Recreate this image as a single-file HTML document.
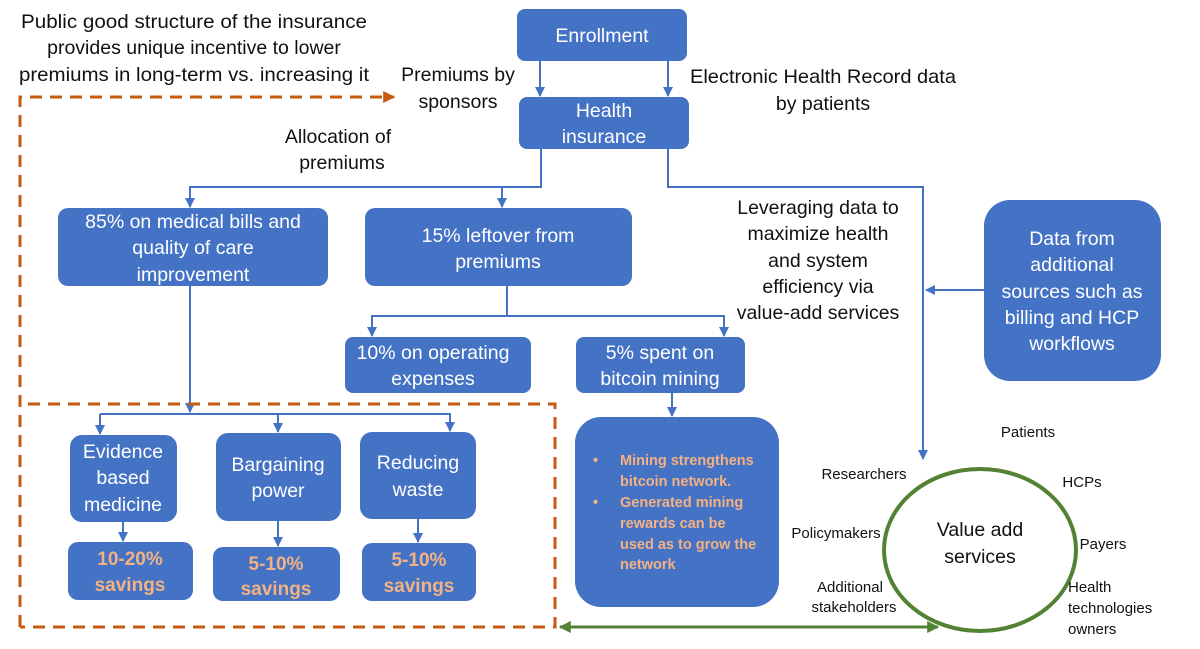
<!DOCTYPE html>
<html><head><meta charset="utf-8"><style>
body{margin:0;background:#fff}
svg{display:block}
text{font-family:"Liberation Sans",sans-serif}
.w{fill:#fff;font-size:19.5px}
.k{fill:#111;font-size:19.5px}
.s{fill:#111;font-size:15px}
.o{fill:#F4B183;font-size:19px;font-weight:bold}
</style></head><body>
<svg width="1200" height="649" viewBox="0 0 1200 649">
<defs>
<marker id="a" viewBox="0 0 10 10" refX="9" refY="5" markerWidth="5" markerHeight="5" orient="auto"><path d="M0,0L10,5L0,10z" fill="#4472C4"/></marker>
<marker id="o" viewBox="0 0 10 10" refX="9" refY="5" markerWidth="4" markerHeight="4" orient="auto"><path d="M0,0L10,5L0,10z" fill="#C55A11"/></marker>
<marker id="g" viewBox="0 0 10 10" refX="9" refY="5" markerWidth="4" markerHeight="4" orient="auto-start-reverse"><path d="M0,0L10,5L0,10z" fill="#548235"/></marker>
</defs>
<g fill="#4472C4">
<rect x="517" y="9" width="170" height="52" rx="8"/>
<rect x="519" y="97" width="170" height="52" rx="8"/>
<rect x="58" y="208" width="270" height="78" rx="10"/>
<rect x="365" y="208" width="267" height="78" rx="10"/>
<rect x="345" y="337" width="186" height="56" rx="8"/>
<rect x="576" y="337" width="169" height="56" rx="8"/>
<rect x="575" y="417" width="204" height="190" rx="26"/>
<rect x="984" y="200" width="177" height="181" rx="26"/>
<rect x="70" y="435" width="107" height="87" rx="12"/>
<rect x="216" y="433" width="125" height="88" rx="12"/>
<rect x="360" y="432" width="116" height="87" rx="12"/>
<rect x="68" y="542" width="125" height="58" rx="10"/>
<rect x="213" y="547" width="127" height="54" rx="10"/>
<rect x="362" y="543" width="114" height="58" rx="10"/>
</g>
<g stroke="#4472C4" stroke-width="2" fill="none">
<path d="M540 61V96" marker-end="url(#a)"/>
<path d="M668 61V96" marker-end="url(#a)"/>
<path d="M541 149V187H190V207" marker-end="url(#a)"/>
<path d="M502 187V207" marker-end="url(#a)"/>
<path d="M668 149V187H923V459" marker-end="url(#a)"/>
<path d="M984 290H926" marker-end="url(#a)"/>
<path d="M507 286V316H372V336" marker-end="url(#a)"/>
<path d="M507 316H724V336" marker-end="url(#a)"/>
<path d="M190 286V412" marker-end="url(#a)"/>
<path d="M100 414H450V431" marker-end="url(#a)"/>
<path d="M100 414V434" marker-end="url(#a)"/>
<path d="M278 414V432" marker-end="url(#a)"/>
<path d="M123 522V541" marker-end="url(#a)"/>
<path d="M278 521V546" marker-end="url(#a)"/>
<path d="M418 519V542" marker-end="url(#a)"/>
<path d="M672 393V416" marker-end="url(#a)"/>
</g>
<g stroke="#C55A11" stroke-width="3" fill="none" stroke-dasharray="12 8">
<path d="M20 627V97H394" marker-end="url(#o)"/>
<path d="M28 404H555V627H20"/>
</g>
<path d="M560 627H938" stroke="#548235" stroke-width="3" marker-start="url(#g)" marker-end="url(#g)"/>
<ellipse cx="980" cy="550" rx="96" ry="81" fill="none" stroke="#548235" stroke-width="4"/>
<g text-anchor="middle">
<text class="k" x="194" y="28" textLength="346" lengthAdjust="spacingAndGlyphs">Public good structure of the insurance</text>
<text class="k" x="194" y="54">provides unique incentive to lower</text>
<text class="k" x="194" y="81" textLength="350" lengthAdjust="spacingAndGlyphs">premiums in long-term vs. increasing it</text>
<text class="k" x="458" y="81">Premiums by</text>
<text class="k" x="458" y="108">sponsors</text>
<text class="k" x="823" y="83" textLength="266" lengthAdjust="spacingAndGlyphs">Electronic Health Record data</text>
<text class="k" x="823" y="110">by patients</text>
<text class="k" x="338" y="143">Allocation of</text>
<text class="k" x="342" y="169">premiums</text>
<text class="k" x="818" y="214">Leveraging data to</text>
<text class="k" x="818" y="240">maximize health</text>
<text class="k" x="818" y="267">and system</text>
<text class="k" x="818" y="293">efficiency via</text>
<text class="k" x="818" y="319">value-add services</text>
<text class="w" x="602" y="42">Enrollment</text>
<text class="w" x="604" y="117">Health</text>
<text class="w" x="604" y="143">insurance</text>
<text class="w" x="193" y="228">85% on medical bills and</text>
<text class="w" x="193" y="254">quality of care</text>
<text class="w" x="193" y="281">improvement</text>
<text class="w" x="498" y="242">15% leftover from</text>
<text class="w" x="498" y="268">premiums</text>
<text class="w" x="433" y="359">10% on operating</text>
<text class="w" x="433" y="385">expenses</text>
<text class="w" x="660" y="359">5% spent on</text>
<text class="w" x="660" y="385">bitcoin mining</text>
<text class="w" x="1072" y="245">Data from</text>
<text class="w" x="1072" y="271">additional</text>
<text class="w" x="1072" y="298">sources such as</text>
<text class="w" x="1072" y="324">billing and HCP</text>
<text class="w" x="1072" y="350">workflows</text>
<text class="w" x="123" y="458">Evidence</text>
<text class="w" x="123" y="484">based</text>
<text class="w" x="123" y="511">medicine</text>
<text class="w" x="278" y="471">Bargaining</text>
<text class="w" x="278" y="497">power</text>
<text class="w" x="418" y="469">Reducing</text>
<text class="w" x="418" y="496">waste</text>
<text class="o" x="130" y="565">10-20%</text>
<text class="o" x="130" y="591">savings</text>
<text class="o" x="276" y="570">5-10%</text>
<text class="o" x="276" y="595">savings</text>
<text class="o" x="419" y="566">5-10%</text>
<text class="o" x="419" y="592">savings</text>
<text class="k" x="980" y="536">Value add</text>
<text class="k" x="980" y="563">services</text>
<text class="s" x="1028" y="437">Patients</text>
<text class="s" x="864" y="479">Researchers</text>
<text class="s" x="1082" y="487">HCPs</text>
<text class="s" x="836" y="538">Policymakers</text>
<text class="s" x="1103" y="549">Payers</text>
<text class="s" x="850" y="592">Additional</text>
<text class="s" x="854" y="612">stakeholders</text>
</g>
<g class="s">
<text class="s" x="1068" y="592">Health</text>
<text class="s" x="1068" y="613">technologies</text>
<text class="s" x="1068" y="634">owners</text>
</g>
<g font-size="14.5" fill="#F4B183" font-weight="bold">
<text x="593" y="465">•</text><text x="620" y="465">Mining strengthens</text>
<text x="620" y="486">bitcoin network.</text>
<text x="593" y="507">•</text><text x="620" y="507">Generated mining</text>
<text x="620" y="528">rewards can be</text>
<text x="620" y="549">used as to grow the</text>
<text x="620" y="569">network</text>
</g>
</svg>
</body></html>
